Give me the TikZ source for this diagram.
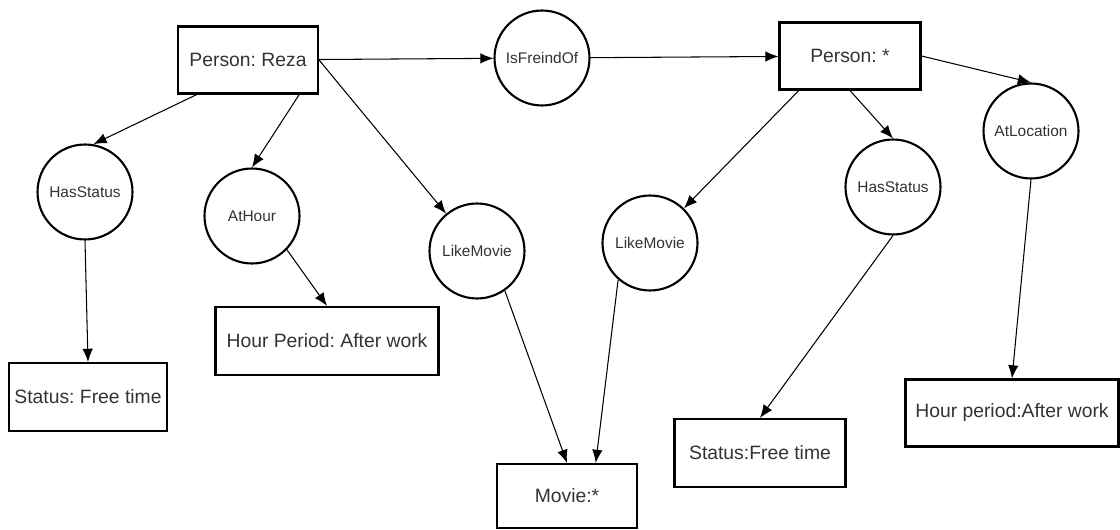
\documentclass[tikz,border=0pt]{standalone}
\usepackage{fontspec}
\setmainfont{Liberation Sans}
\usetikzlibrary{arrows.meta}

\begin{document}
\frenchspacing
\begin{tikzpicture}[x=0.02cm,y=-0.02cm,
    box/.style={draw,line width=1.2pt,inner sep=0pt,text=black!80,font=\fontsize{11}{13}\selectfont},
    rel/.style={draw,circle,line width=1.2pt,inner sep=0pt,minimum size=1.9cm,text=black!80,font=\fontsize{8.8}{10}\selectfont},
    link/.style={->,line width=0.6pt},
    >={Latex[length=7.5pt,width=6pt]}]
\useasboundingbox (0,0) rectangle (1120,530);

%entities
\node[box,minimum width=2.8cm,minimum height=1.34cm] (reza) at (248,60) {Person: Reza};
\node[box,minimum width=2.82cm,minimum height=1.34cm] (person) at (850,56) {Person: *};
\node[box,minimum width=3.16cm,minimum height=1.36cm] (statusL) at (88,397) {Status: Free time};
\node[box,minimum width=4.46cm,minimum height=1.36cm] (hourL) at (327,341) {Hour Period: After work};
\node[box,minimum width=2.8cm,minimum height=1.28cm] (movie) at (567,496) {Movie:*};
\node[box,minimum width=3.42cm,minimum height=1.36cm] (statusR) at (760,453) {Status:Free time};
\node[box,minimum width=4.26cm,minimum height=1.34cm] (hourR) at (1012,413) {Hour period:After work};

%relations
\node[rel] (friend) at (542,58) {IsFreindOf};
\node[rel] (hasL) at (85,192) {HasStatus};
\node[rel] (athour) at (252,216) {AtHour};
\node[rel] (likeL) at (477,251) {LikeMovie};
\node[rel] (likeR) at (650,243) {LikeMovie};
\node[rel] (hasR) at (893,187) {HasStatus};
\node[rel] (atloc) at (1031,131) {AtLocation};

\draw[link] (reza) -- (friend);
\draw[link] (friend) -- (person);
\draw[link] (reza.214) -- (hasL.80);
\draw[link] (reza.326) -- (athour.north);
\draw[link] (reza.east) -- (likeL);
\draw[link] (hasL.south) -- (statusL.north);
\draw[link] (athour.-44) -- (hourL.north);
\draw[link] (likeL.-55) -- (movie.north);
\draw[link] (likeR.229) -- (movie.49);
\draw[link] (person.214) -- (likeR);
\draw[link] (person.south) -- (hasR.north);
\draw[link] (person.east) -- (atloc.north);
\draw[link] (hasR.south) -- (statusR.north);
\draw[link] (atloc.south) -- (hourR.north);
\end{tikzpicture}
\end{document}
